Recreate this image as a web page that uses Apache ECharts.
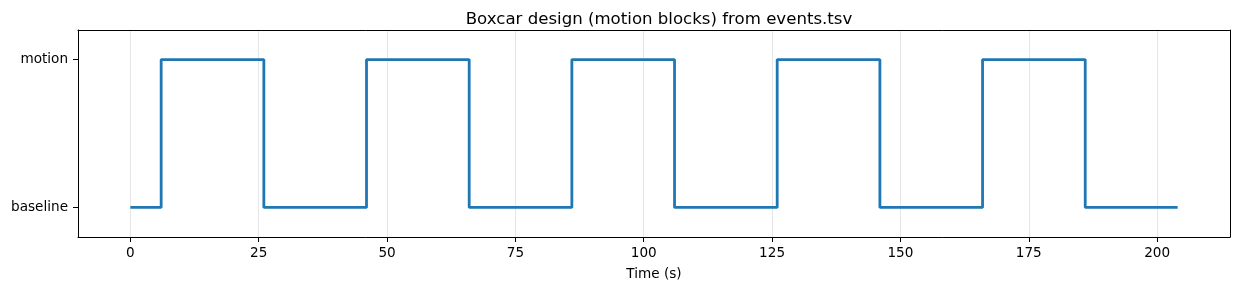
<!DOCTYPE html>
<html>
<head>
<meta charset="utf-8">
<script src="https://cdn.jsdelivr.net/npm/echarts@6/dist/echarts.min.js"></script>
<style>
  html, body { margin: 0; padding: 0; background: #fff; }
  #chart { width: 1239px; height: 290px; }
</style>
</head>
<body>
<div id="chart"></div>
<script>
// Event boundaries (s) and state after each boundary (0 = baseline, 1 = motion)
var times  = [0, 6, 26, 46, 66, 86, 106, 126, 146, 166, 186, 204];
var states = [0, 1, 0, 1, 0, 1, 0, 1, 0, 1, 0, 0];
var xTicks = [0, 25, 50, 75, 100, 125, 150, 175, 200];
var yTicks = [0, 1];
var yTickLabels = ['baseline', 'motion'];

var FONT = 'DejaVu Sans';
var data = times.map(function (t, i) { return [t, states[i]]; });
var XMIN = -10.2, XMAX = 214.2, YMIN = -0.2, YMAX = 1.2;

var frameAxis = {
  axisLine: { show: true, onZero: false, lineStyle: { color: '#000', width: 1 } },
  axisTick: { show: false }, axisLabel: { show: false }, splitLine: { show: false }
};

var chart = echarts.init(document.getElementById('chart'), null, { renderer: 'canvas' });
chart.setOption({
  animation: false,
  backgroundColor: '#ffffff',
  title: {
    text: 'Boxcar design (motion blocks) from events.tsv',
    left: 654, top: 6, textAlign: 'center',
    textStyle: { fontFamily: FONT, fontSize: 16.6, fontWeight: 'normal', color: '#000' }
  },
  grid: { left: 78, right: 9, top: 30, bottom: 53, show: false },
  xAxis: [{
    type: 'value', min: XMIN, max: XMAX, position: 'bottom',
    name: 'Time (s)', nameLocation: 'middle', nameGap: 30,
    nameTextStyle: { fontFamily: FONT, fontSize: 13.6, color: '#000' },
    axisLine: { show: true, onZero: false, lineStyle: { color: '#000', width: 1 } },
    axisTick: { show: true, inside: false, customValues: xTicks, length: 5, lineStyle: { color: '#000' } },
    axisLabel: { customValues: xTicks, fontFamily: FONT, fontSize: 13.6, color: '#000', margin: 9 },
    splitLine: { show: true, lineStyle: { color: '#e6e6e6', width: 1 } }
  }, Object.assign({ type: 'value', min: XMIN, max: XMAX, position: 'top' }, frameAxis)],
  yAxis: [{
    type: 'value', min: YMIN, max: YMAX, position: 'left',
    axisLine: { show: true, onZero: false, lineStyle: { color: '#000', width: 1 } },
    axisTick: { show: true, inside: false, customValues: yTicks, length: 5, lineStyle: { color: '#000' } },
    axisLabel: {
      customValues: yTicks, fontFamily: FONT, fontSize: 13.6, color: '#000', margin: 10,
      formatter: function (v) { var i = yTicks.indexOf(v); return i >= 0 ? yTickLabels[i] : ''; }
    },
    splitLine: { show: false }
  }, Object.assign({ type: 'value', min: YMIN, max: YMAX, position: 'right' }, frameAxis)],
  series: [{
    type: 'line', step: 'end', data: data, xAxisIndex: 0, yAxisIndex: 0,
    showSymbol: false, symbol: 'none',
    lineStyle: { color: '#1f77b4', width: 2.8 },
    z: 5
  }]
});
</script>
</body>
</html>
